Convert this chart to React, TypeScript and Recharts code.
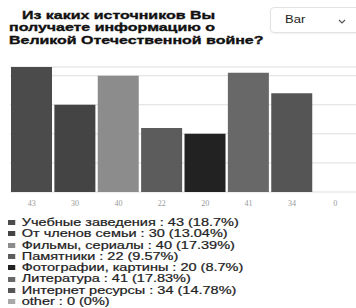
import React from 'react';
import { BarChart, Bar, XAxis, YAxis, CartesianGrid, Cell } from 'recharts';

const categories = [
  'Учебные заведения',
  'От членов семьи',
  'Фильмы, сериалы',
  'Памятники',
  'Фотографии, картины',
  'Литература',
  'Интернет ресурсы',
  'other',
];
const values = [43, 30, 40, 22, 20, 41, 34, 0];
const percents = ['18.7%', '13.04%', '17.39%', '9.57%', '8.7%', '17.83%', '14.78%', '0%'];
const colors = ['#4b4b4b', '#444444', '#8c8c8c', '#5c5c5c', '#222222', '#686868', '#555555', '#a8a8a8'];
const yTicks = [0, 5, 10, 15, 20, 25, 30, 35, 40];
const titleLines = ['Из каких источников Вы', 'получаете информацию о', 'Великой Отечественной войне?'];

const data = categories.map((name, i) => ({ name, value: values[i], label: String(values[i]) }));

export default function App() {
  return (
    <div
      style={{
        position: 'absolute',
        left: 0,
        top: 0,
        width: 356,
        height: 308,
        overflow: 'hidden',
        background: '#fff',
        fontFamily: '"Liberation Sans", Arial, sans-serif',
      }}
    >
      <div
        style={{
          position: 'absolute',
          left: 9,
          top: 8.5,
          fontWeight: 'bold',
          fontSize: 11,
          lineHeight: '12.5px',
          color: '#111',
          whiteSpace: 'nowrap',
          WebkitTextStroke: '0.35px #111',
          transform: 'scaleX(1.45)',
          transformOrigin: 'left top',
        }}
      >
        {titleLines.map((t, i) => (
          <div key={i} style={{ paddingLeft: i === 0 ? 9 : 0 }}>{t}</div>
        ))}
      </div>
      <div
        style={{
          position: 'absolute',
          left: 270,
          top: 7,
          width: 90,
          height: 26,
          border: '1px solid #e2e2e2',
          borderRadius: 4,
          boxSizing: 'border-box',
          boxShadow: '0 1px 2px rgba(0,0,0,0.06)',
        }}
      >
        <span
          style={{
            position: 'absolute',
            left: 14,
            top: 6,
            fontSize: 10,
            color: '#222',
            transform: 'scaleX(1.3)',
            transformOrigin: 'left top',
          }}
        >
          Bar
        </span>
        <svg style={{ position: 'absolute', left: 67, top: 11 }} width="8" height="5" viewBox="0 0 8 5">
          <polyline points="1,1 4,4 7,1" fill="none" stroke="#555" strokeWidth="1.2" />
        </svg>
      </div>
      <div style={{ position: 'absolute', left: 0, top: 0 }}>
        <BarChart
          width={357}
          height={215}
          data={data}
          margin={{ top: 67, right: 0, bottom: 0, left: 10 }}
          barCategoryGap={1}
        >
          <CartesianGrid vertical={false} stroke="#dddddd" />
          <YAxis hide domain={[0, 43]} ticks={yTicks} />
          <XAxis
            dataKey="label"
            axisLine={false}
            tickLine={false}
            height={23}
            interval={0}
            tick={{ fontFamily: '"Liberation Serif", "DejaVu Serif", serif', fontSize: 8, fill: '#999' }}
          />
          <Bar dataKey="value" isAnimationActive={false}>
            {data.map((d, i) => (
              <Cell key={i} fill={colors[i]} />
            ))}
          </Bar>
        </BarChart>
      </div>
      <div
        style={{
          position: 'absolute',
          left: 8,
          top: 217,
          fontSize: 10,
          lineHeight: '11.3px',
          color: '#222',
          WebkitTextStroke: '0.2px #222',
          transform: 'scaleX(1.45)',
          transformOrigin: 'left top',
        }}
      >
        {categories.map((c, i) => (
          <div key={i} style={{ display: 'flex', alignItems: 'center', whiteSpace: 'nowrap', height: 11.3 }}>
            <span
              style={{ display: 'inline-block', width: 5, height: 5, background: colors[i], marginRight: 4.5, flexShrink: 0 }}
            />
            <span>{`${c} : ${values[i]} (${percents[i]})`}</span>
          </div>
        ))}
      </div>
    </div>
  );
}
